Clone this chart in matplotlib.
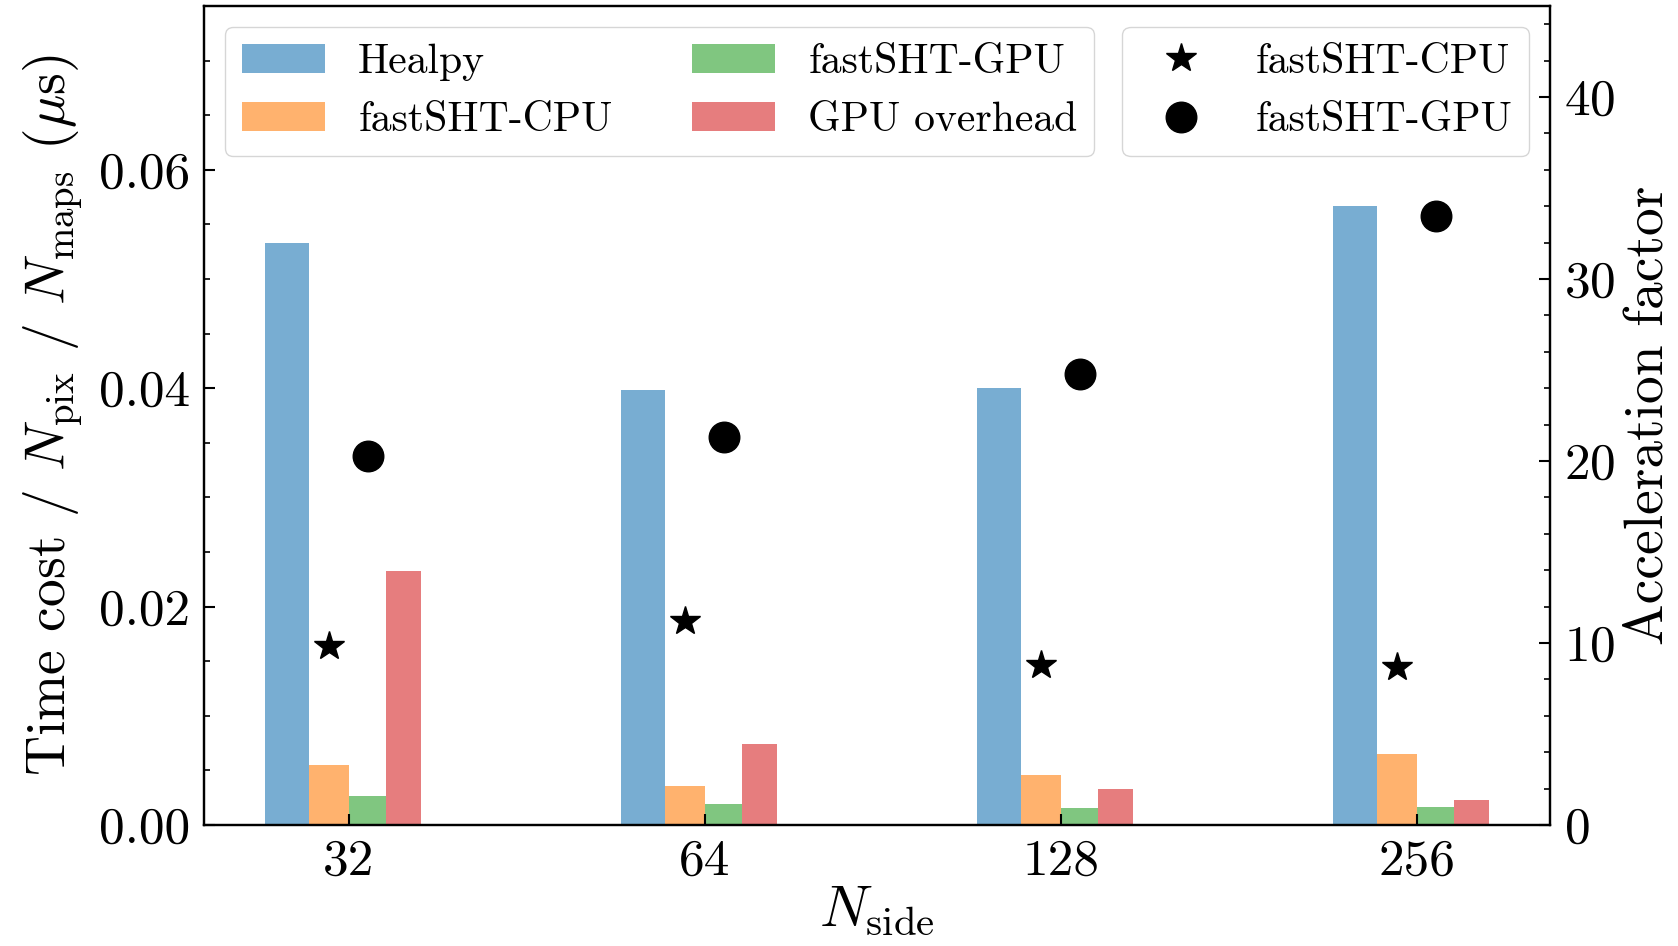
import numpy as np
import matplotlib
matplotlib.use('Agg')
import matplotlib.pyplot as plt
from matplotlib.ticker import MultipleLocator, FormatStrFormatter, NullLocator, FixedLocator

plt.rcParams['font.family'] = 'serif'
plt.rcParams['font.serif'] = ['cmr10']
plt.rcParams['mathtext.fontset'] = 'cm'
plt.rcParams['axes.formatter.use_mathtext'] = True

#Data
nside = np.array([32, 64, 128, 256])
healpy = [0.0533, 0.0398, 0.0400, 0.0567]
cpu_time = [0.00545, 0.00359, 0.00456, 0.00653]
gpu_time = [0.00265, 0.00189, 0.00158, 0.00160]
gpu_overhead = [0.0233, 0.00742, 0.00326, 0.00225]
cpu_accel = [9.82, 11.18, 8.81, 8.67]
gpu_accel = [20.26, 21.3, 24.76, 33.46]

fig = plt.figure(figsize=(16.78, 9.46), dpi=100)
ax = fig.add_axes([0.1216, 0.128, 0.8021, 0.8656])

#Bars on a log2 axis, width proportional to Nside
w = 0.075 * nside
b1 = ax.bar(nside - 2*w, healpy, width=w, align='edge', color='tab:blue', alpha=0.6, label='Healpy')
b2 = ax.bar(nside - w, cpu_time, width=w, align='edge', color='tab:orange', alpha=0.6, label='fastSHT-CPU')
b3 = ax.bar(nside, gpu_time, width=w, align='edge', color='tab:green', alpha=0.6, label='fastSHT-GPU')
b4 = ax.bar(nside + w, gpu_overhead, width=w, align='edge', color='tab:red', alpha=0.6, label='GPU overhead')

ax.set_xscale('log', base=2)
ax.xaxis.set_major_locator(FixedLocator(nside))
ax.xaxis.set_minor_locator(NullLocator())
ax.set_xticklabels([str(n) for n in nside])
ax.set_ylim(0, 0.075)
ax.yaxis.set_major_locator(MultipleLocator(0.02))
ax.yaxis.set_minor_locator(MultipleLocator(0.005))
ax.yaxis.set_major_formatter(FormatStrFormatter('%.2f'))
ax.tick_params(which='both', direction='in', top=False, right=False, labelsize=37)
ax.tick_params(which='major', length=8, width=1.5, pad=10)
ax.tick_params(which='minor', length=4.5, width=1.2)
ax.set_xlabel(r'$N_{\rm side}$', fontsize=42, labelpad=0)
ax.set_ylabel(r'Time cost / $N_{\rm pix}$ / $N_{\rm maps}$ ($\mu$s)', fontsize=40, labelpad=10)

ax2 = ax.twinx()
ax2.plot(nside - w/2, cpu_accel, '*', color='k', ms=22, linestyle='none', label='fastSHT-CPU')
ax2.plot(nside + w/2, gpu_accel, 'o', color='k', ms=22, linestyle='none', label='fastSHT-GPU')
ax2.set_ylim(0, 45)
ax2.yaxis.set_major_locator(MultipleLocator(10))
ax2.yaxis.set_minor_locator(MultipleLocator(2))
ax2.tick_params(which='both', direction='in', labelsize=37)
ax2.tick_params(which='major', length=8, width=1.5, pad=10)
ax2.tick_params(which='minor', length=4.5, width=1.2)
ax2.set_ylabel('Acceleration factor', fontsize=40, labelpad=6)

for a in (ax, ax2):
    for s in a.spines.values():
        s.set_linewidth(1.6)

leg1 = ax2.legend(handles=[b1, b2, b3, b4], loc='upper left', ncol=2, fontsize=30,
                  handletextpad=0.8, columnspacing=1.9)
ax2.add_artist(leg1)
ax2.legend(loc='upper right', fontsize=30, handletextpad=0.8)

plt.savefig('out.png', dpi=100)
plt.close()
